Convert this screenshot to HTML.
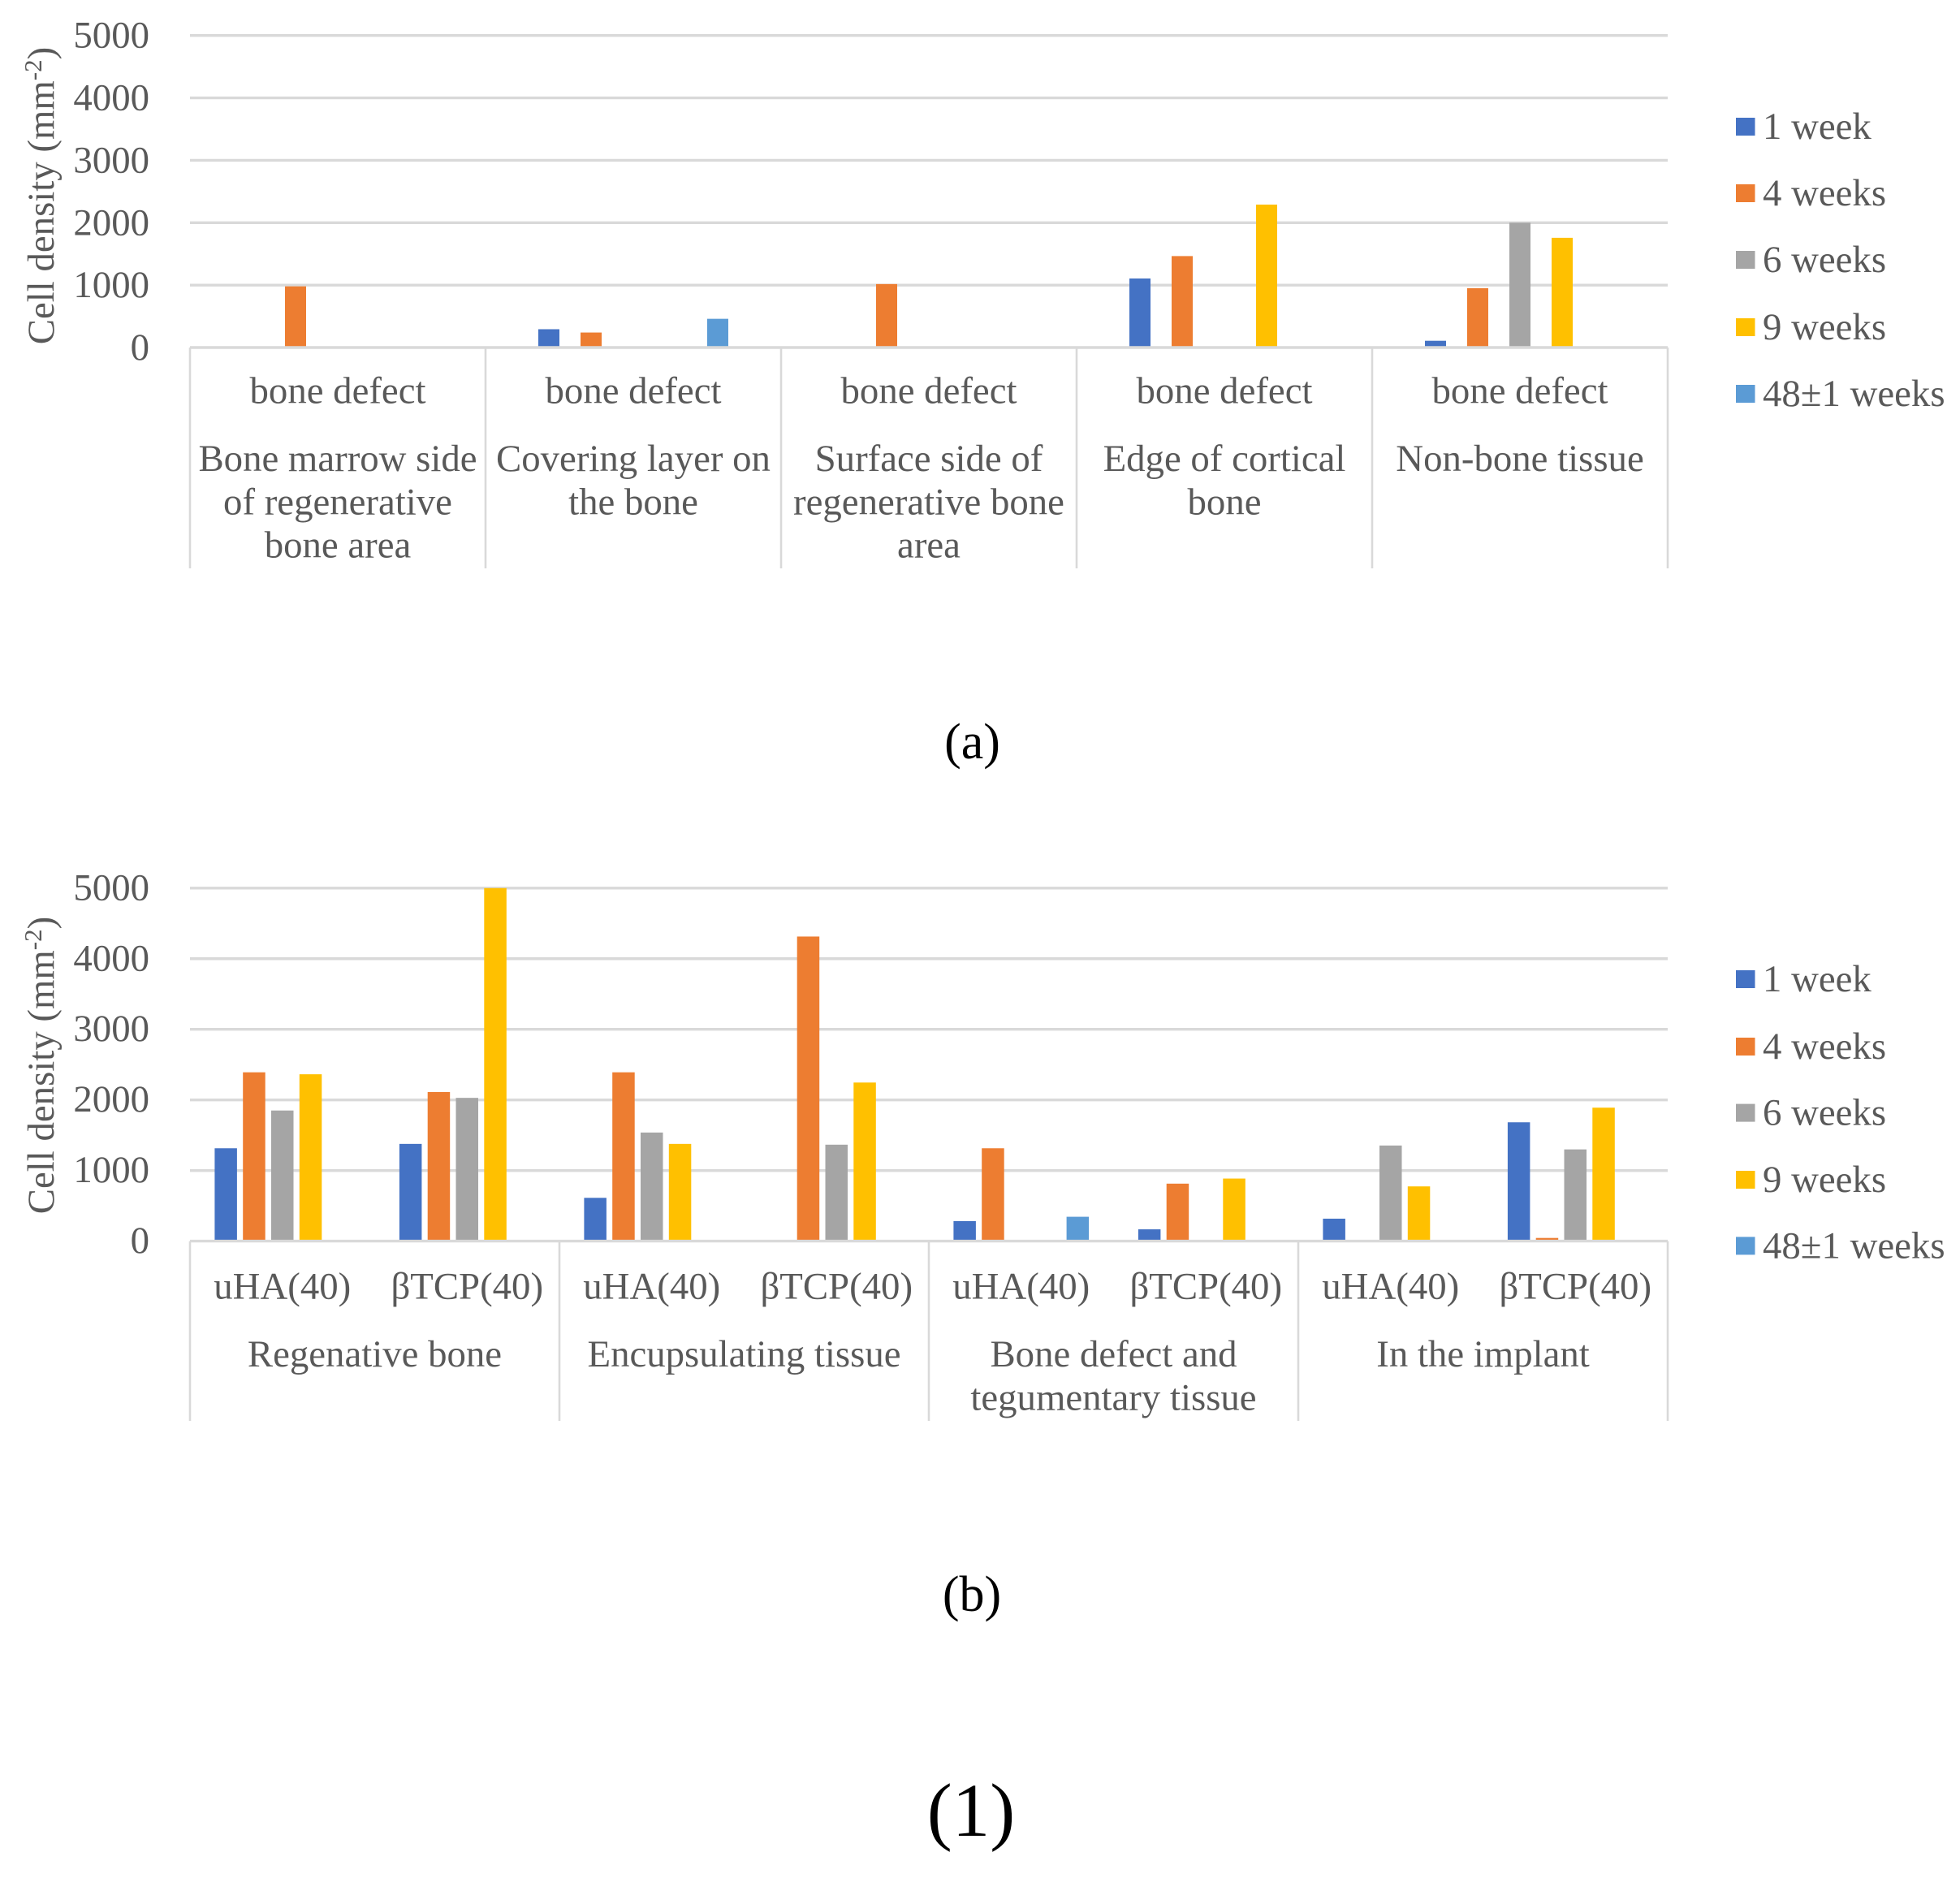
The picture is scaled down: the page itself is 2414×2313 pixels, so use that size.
<!DOCTYPE html>
<html lang="en">
<head>
<meta charset="utf-8">
<title>Cell density charts</title>
<style>
html,body{margin:0;padding:0;background:#fff;}
svg{display:block;}
text{font-family:"Liberation Serif","DejaVu Serif",serif;fill:#595959;font-size:46.8px;}
</style>
</head>
<body>
<svg id="figure" xmlns="http://www.w3.org/2000/svg" width="2414" height="2313" viewBox="0 0 2414 2313"></svg>
<script>
const seriesNames = ['1 week', '4 weeks', '6 weeks', '9 weeks', '48±1 weeks'];
const seriesColors = ['#4472C4', '#ED7D31', '#A5A5A5', '#FFC000', '#5B9BD5'];
const yTicks = [0, 1000, 2000, 3000, 4000, 5000];

const chartAInner = ['bone defect', 'bone defect', 'bone defect', 'bone defect', 'bone defect'];
const chartAOuter = [
  ['Bone marrow side', 'of regenerative', 'bone area'],
  ['Covering layer on', 'the bone'],
  ['Surface side of', 'regenerative bone', 'area'],
  ['Edge of cortical', 'bone'],
  ['Non-bone tissue']
];
const chartAWeek1 = [0, 293, 0, 1106, 108];
const chartAWeek4 = [980, 240, 1017, 1465, 950];
const chartAWeek6 = [0, 0, 0, 0, 2000];
const chartAWeek9 = [0, 0, 0, 2290, 1758];
const chartAWeek48 = [0, 460, 0, 0, 0];

const chartBInner = ['uHA(40)', 'βTCP(40)', 'uHA(40)', 'βTCP(40)', 'uHA(40)', 'βTCP(40)', 'uHA(40)', 'βTCP(40)'];
const chartBOuter = [
  ['Regenative bone'],
  ['Encupsulating tissue'],
  ['Bone defect and', 'tegumentary tissue'],
  ['In the implant']
];
const chartBWeek1 = [1315, 1377, 613, 0, 284, 167, 318, 1683];
const chartBWeek4 = [2391, 2112, 2391, 4314, 1315, 814, 0, 45];
const chartBWeek6 = [1850, 2029, 1538, 1366, 0, 0, 1354, 1299];
const chartBWeek9 = [2363, 5000, 1377, 2246, 0, 886, 775, 1890];
const chartBWeek48 = [0, 0, 0, 0, 345, 0, 0, 0];

const svg = document.getElementById('figure');
const NS = 'http://www.w3.org/2000/svg';

function make(tag, parent, name, attrs) {
  const el = document.createElementNS(NS, tag);
  
  
  for (const k in attrs) el.setAttribute(k, attrs[k]);
  parent.appendChild(el);
  return el;
}
function label(parent, name, str, x, y, anchor, extra) {
  const t = make('text', parent, name, Object.assign({x: x, y: y, 'text-anchor': anchor || 'middle'}, extra || {}));
  t.textContent = str;
  return t;
}

function drawChart(cfg) {
  const g = make('g', svg, cfg.name, {});
  const yOf = v => cfg.y0 - (v / 5000) * (cfg.y0 - cfg.y5000);
  const innerW = (cfg.xR - cfg.xL) / cfg.inner.length;
  const xOf = i => cfg.xL + innerW * (i + 0.5);

  yTicks.forEach(t => {
    if (t > 0) make('line', g, 'gridline-' + t, {x1: cfg.xL, x2: cfg.xR, y1: yOf(t), y2: yOf(t), stroke: '#d9d9d9', 'stroke-width': 3.4});
    label(g, 'y-tick-' + t, String(t), 184, yOf(t) + cfg.tickDy, 'end', {});
  });

  cfg.series.forEach((vals, s) => {
    vals.forEach((v, i) => {
      if (!v) return;
      const cx = xOf(i) + (s - 2) * cfg.pitch;
      const top = yOf(v);
      make('rect', g, 'bar-' + cfg.short + '-' + seriesNames[s].replace(/[^0-9a-z]+/g, '-') + '-' + i, {
        x: cx - cfg.barW / 2, y: top, width: cfg.barW, height: cfg.y0 - top - 1.5, fill: seriesColors[s]
      });
    });
  });

  make('line', g, 'x-axis-line', {x1: cfg.xL, x2: cfg.xR, y1: cfg.y0, y2: cfg.y0, stroke: '#d9d9d9', 'stroke-width': 3.4});

  const outerW = (cfg.xR - cfg.xL) / cfg.outer.length;
  for (let i = 0; i <= cfg.outer.length; i++) {
    const x = cfg.xL + outerW * i;
    make('line', g, 'category-separator-' + i, {x1: x, x2: x, y1: cfg.y0, y2: cfg.sepBottom, stroke: '#d9d9d9', 'stroke-width': 2.6});
  }
  cfg.inner.forEach((txt, i) => {
    label(g, 'inner-category-label-' + i, txt, xOf(i), cfg.innerBase);
  });
  cfg.outer.forEach((lines, i) => {
    lines.forEach((txt, j) => {
      label(g, 'outer-category-label-' + i + '-' + j, txt, cfg.xL + outerW * (i + 0.5), cfg.outerBase + j * cfg.lineH);
    });
  });

  const title = make('text', g, 'y-axis-title', {
    transform: 'translate(66,' + cfg.titleY + ') rotate(-90)', 'text-anchor': 'middle'
  });
  const t1 = make('tspan', title, 'y-axis-title-main', {});
  t1.textContent = 'Cell density (mm';
  const t2 = make('tspan', title, 'y-axis-title-exponent', {dy: -15, 'font-size': 31});
  t2.textContent = '-2';
  const t3 = make('tspan', title, 'y-axis-title-close', {dy: 15});
  t3.textContent = ')';

  const lg = make('g', g, 'legend', {});
  seriesNames.forEach((n, s) => {
    const cy = cfg.legendY[s];
    make('rect', lg, 'legend-swatch-' + s, {x: 2138, y: cy - 11, width: 23.5, height: 22, fill: seriesColors[s]});
    label(lg, 'legend-label-' + s, n, 2171, cy + 15, 'start');
  });
}

drawChart({
  name: 'chart-a', short: 'a', xL: 234, xR: 2054, y0: 428, y5000: 43.7, tickDy: 15,
  barW: 26, pitch: 52, sepBottom: 700,
  inner: chartAInner, outer: chartAOuter,
  series: [chartAWeek1, chartAWeek4, chartAWeek6, chartAWeek9, chartAWeek48],
  innerBase: 496.5, outerBase: 580, lineH: 53.3, titleY: 241,
  legendY: [156, 238, 320, 403, 485]
});
drawChart({
  name: 'chart-b', short: 'b', xL: 234, xR: 2054, y0: 1528.6, y5000: 1093.8, tickDy: 14.5,
  barW: 27.5, pitch: 34.8, sepBottom: 1750,
  inner: chartBInner, outer: chartBOuter,
  series: [chartBWeek1, chartBWeek4, chartBWeek6, chartBWeek9, chartBWeek48],
  innerBase: 1599.5, outerBase: 1683, lineH: 53.6, titleY: 1312,
  legendY: [1206, 1289, 1370.6, 1453, 1534.4]
});

label(svg, 'panel-label-a', '(a)', 1197.5, 934, 'middle', {style: 'font-size:62px;fill:#000'});
label(svg, 'panel-label-b', '(b)', 1197, 1984, 'middle', {style: 'font-size:62px;fill:#000'});
label(svg, 'figure-label-1', '(1)', 1196, 2261, 'middle', {style: 'font-size:93px;fill:#000'});
</script>
</body>
</html>
